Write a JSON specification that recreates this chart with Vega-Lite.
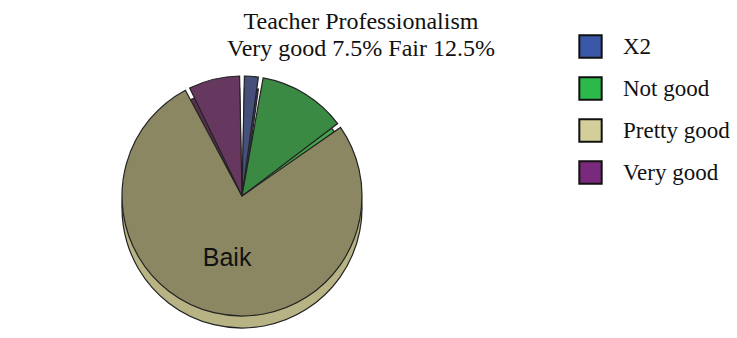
{
  "$schema": "https://vega.github.io/schema/vega-lite/v6.json",
  "width": 484,
  "height": 324,
  "padding": {"left": 0, "top": 10, "right": 0, "bottom": 0},
  "background": "white",
  "title": {
    "text": ["Teacher Professionalism", "Very good 7.5% Fair 12.5%"],
    "font": "Liberation Serif",
    "fontSize": 24,
    "fontWeight": "normal",
    "color": "#111111",
    "anchor": "middle",
    "dx": 119,
    "lineHeight": 27,
    "offset": -27
  },
  "data": {
    "values": [
      {"category": "X2", "value": 2.5, "rank": 1, "label": ""},
      {"category": "Not good", "value": 12.5, "rank": 2, "label": ""},
      {"category": "Pretty good", "value": 77.5, "rank": 3, "label": "Baik"},
      {"category": "Very good", "value": 7.5, "rank": 4, "label": ""}
    ]
  },
  "layer": [
    {
      "mark": {"type": "arc", "radius": 120, "yOffset": 12, "padAngle": 0.04, "stroke": "#222222", "strokeWidth": 1.2},
      "encoding": {
        "theta": {"field": "value", "type": "quantitative", "stack": true},
        "order": {"field": "rank", "type": "quantitative"},
        "color": {
          "field": "category", "type": "nominal",
          "sort": ["X2", "Not good", "Pretty good", "Very good"],
          "scale": {"domain": ["X2", "Not good", "Pretty good", "Very good"], "range": ["#3c4672", "#45a64b", "#b8b385", "#58304f"]},
          "legend": null
        }
      }
    },
    {
      "mark": {"type": "arc", "radius": 120, "padAngle": 0.04, "stroke": "#222222", "strokeWidth": 1.2},
      "encoding": {
        "theta": {"field": "value", "type": "quantitative", "stack": true},
        "order": {"field": "rank", "type": "quantitative"},
        "color": {
          "field": "category", "type": "nominal",
          "sort": ["X2", "Not good", "Pretty good", "Very good"],
          "scale": {"domain": ["X2", "Not good", "Pretty good", "Very good"], "range": ["#46507a", "#3b8a44", "#8b8762", "#67385f"]},
          "legend": null
        }
      }
    },
    {
      "mark": {"type": "arc", "radius": 0},
      "encoding": {
        "theta": {"field": "value", "type": "quantitative", "stack": true},
        "order": {"field": "rank", "type": "quantitative"},
        "color": {
          "field": "category", "type": "nominal",
          "sort": ["X2", "Not good", "Pretty good", "Very good"],
          "scale": {"domain": ["X2", "Not good", "Pretty good", "Very good"], "range": ["#3a56a6", "#2db84b", "#d4cf9a", "#7a2a7c"]},
          "legend": {
            "orient": "none",
            "legendX": 578,
            "legendY": 0,
            "title": null,
            "symbolType": "square",
            "symbolSize": 500,
            "symbolStrokeColor": "#111111",
            "symbolStrokeWidth": 2,
            "symbolOpacity": 1,
            "labelFont": "Liberation Serif",
            "labelFontSize": 23,
            "labelColor": "#111111",
            "labelOffset": 20,
            "rowPadding": 11
          }
        }
      }
    },
    {
      "mark": {"type": "text", "radius": 64, "font": "Liberation Sans", "fontSize": 25, "color": "#111111"},
      "encoding": {
        "theta": {"field": "value", "type": "quantitative", "stack": true},
        "order": {"field": "rank", "type": "quantitative"},
        "text": {"field": "label", "type": "nominal"}
      }
    }
  ],
  "resolve": {"scale": {"color": "independent"}},
  "view": {"stroke": null}
}
